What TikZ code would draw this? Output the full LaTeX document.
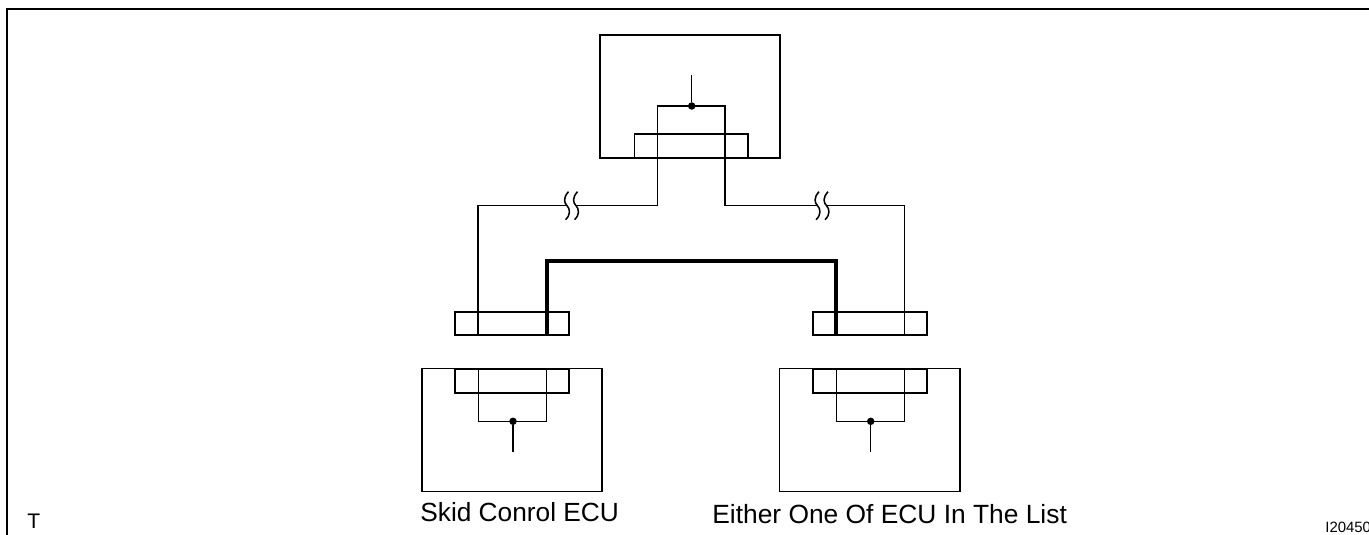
\documentclass[tikz,border=0pt]{standalone}
\usepackage{fontspec}
\setmainfont{Liberation Sans}
\tikzset{
  box/.style 2 args={draw, line width=0.36mm, rectangle, inner sep=0pt, outer sep=0pt, minimum width=#1*0.2mm, minimum height=#2*0.2mm},
  wire/.style={line width=0.31mm},
  busline/.style={line width=0.8mm, line join=miter},
  label/.style={inner sep=0pt, anchor=base west},
  junction/.style={circle, fill=black, inner sep=0pt, minimum size=1.5mm},
  wirebreak/.pic={
    \draw[wire] (1.5,-14) .. controls (-4,-8) and (-3,-3) .. (0,0) .. controls (3,3) and (4,9) .. (-1.5,14);
  }
}
\begin{document}
\begin{tikzpicture}[x=0.2mm, y=-0.2mm]
\useasboundingbox (0,0) rectangle (1369,535);
% Outer frame
\coordinate (frameB) at (7,540);
\coordinate (frameC) at (7,9);
\coordinate (frameR) at (1375,9);
\draw[line width=0.5mm] (frameB) -- (frameC) -- (frameR);

% Housings and connectors
\node[box={180}{123}] (topbox) at (690.2,96.8) {};
\node[box={113.5}{24}] (topconn) at (691.2,146) {};
\node[box={180}{123}] (leftbox) at (511.7,430) {};
\node[box={180.5}{123}] (rightbox) at (869.7,430) {};
\node[box={114}{24}] (leftsocket) at (512.2,381) {};
\node[box={114}{24}] (rightsocket) at (870.2,381) {};
\node[box={114}{23}] (leftplug) at (512.2,323.8) {};
\node[box={114}{23}] (rightplug) at (870.2,323.8) {};

% Wire points
\coordinate (topA) at (657.5,106);
\coordinate (topB) at (725,106);
\coordinate (topStub) at (691.7,75);
\coordinate (brkLa) at (567,205.7);
\coordinate (brkLb) at (576,205.7);
\coordinate (brkRa) at (817.5,205.7);
\coordinate (brkRb) at (826.5,205.7);
\coordinate (plugLa) at (478,335);
\coordinate (plugRa) at (904.7,335);
\coordinate (plugLb) at (546.7,335);
\coordinate (plugRb) at (836,335);
\coordinate (busTop) at (691,260.7);
\coordinate (ecuLa) at (478.7,369);
\coordinate (ecuLb) at (546.7,369);
\coordinate (ecuLc) at (478.7,421.3);
\coordinate (ecuLd) at (546.7,421.3);
\coordinate (ecuLstub) at (513,452);
\coordinate (ecuRa) at (836.3,369);
\coordinate (ecuRb) at (904.7,369);
\coordinate (ecuRc) at (836.3,421.3);
\coordinate (ecuRd) at (904.7,421.3);
\coordinate (ecuRstub) at (870.7,452);

% Wires
\draw[wire] (plugLa) |- (brkLa);
\draw[wire] (brkLb) -| (topA) -- (topB) |- (brkRa);
\draw[wire] (brkRb) -| (plugRa);
\draw[busline] (plugLb) -- (plugLb |- busTop) -- (plugRb |- busTop) -- (plugRb);
\draw[wire] (ecuLa) -- (ecuLc) -- (ecuLd) -- (ecuLb);
\draw[wire] (ecuRa) -- (ecuRc) -- (ecuRd) -- (ecuRb);

% Junctions with their stubs
\node[junction] (dotT) at (topStub |- topA) {};
\node[junction] (dotL) at (ecuLstub |- ecuLc) {};
\node[junction] (dotR) at (ecuRstub |- ecuRc) {};
\draw[wire] (dotT) -- (topStub);
\draw[wire] (dotL) -- (ecuLstub);
\draw[wire] (dotR) -- (ecuRstub);

% Breaks
\foreach \p in {brkLa,brkLb,brkRa,brkRb} {
    \pic at (\p) {wirebreak};
}

% Labels
\node[label, font=\fontsize{14.95pt}{16pt}\selectfont] (leftname) at (420,521.7) {Skid Conrol ECU};
\node[label, font=\fontsize{15pt}{16pt}\selectfont] (rightname) at (712,523) {Either One Of ECU In The List};
\node[label, font=\fontsize{12pt}{14pt}\selectfont] (cornerT) at (27,528) {T};
\node[label, font=\fontsize{8.5pt}{10pt}\selectfont] (figcode) at (1325,532) {I20450};
\end{tikzpicture}
\end{document}
